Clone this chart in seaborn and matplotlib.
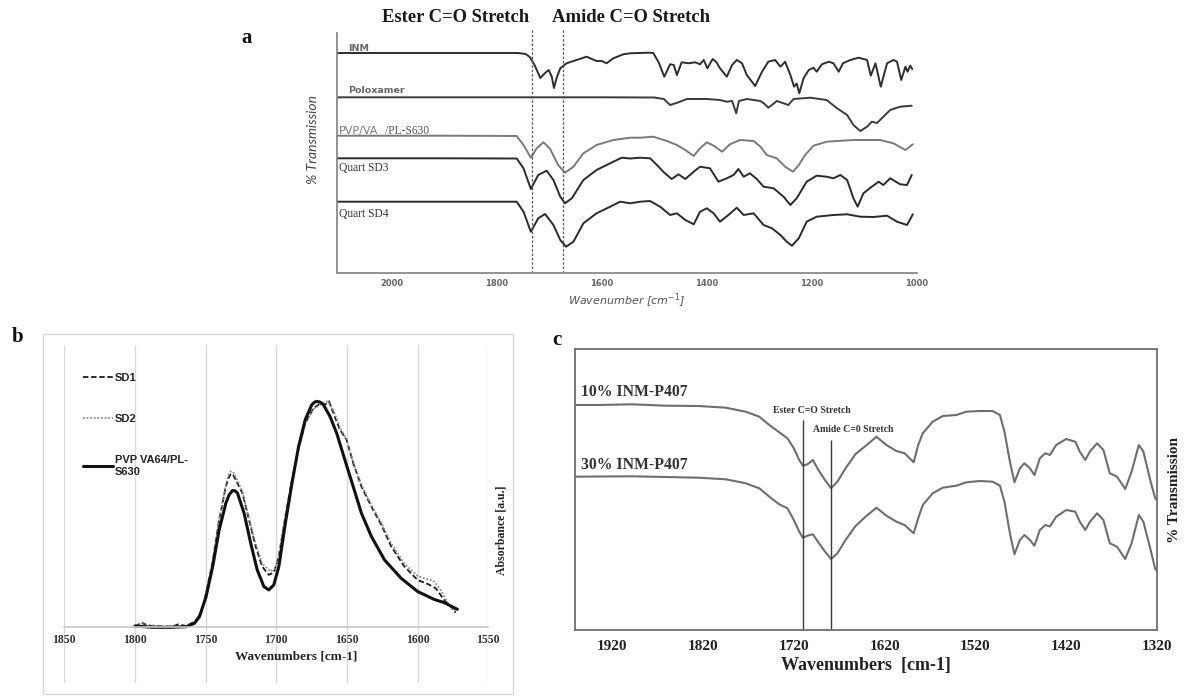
import matplotlib
matplotlib.use("Agg")
import matplotlib.pyplot as plt
from matplotlib.patches import Rectangle
import seaborn as sns

# ---------------- panel a: stacked FTIR transmission spectra ----------------
A_TICKS = [2000, 1800, 1600, 1400, 1200, 1000]
A_MARKERS = [1733, 1673]          # ester / amide C=O positions

INM_WN = [2104, 1900, 1760, 1745, 1737, 1728, 1717, 1708, 1701, 1695, 1691, 1686,
          1679, 1667, 1648, 1629, 1610, 1600, 1591, 1578, 1559, 1546, 1530, 1510,
          1502, 1492, 1481, 1470, 1463, 1457, 1448, 1435, 1422, 1413, 1406, 1399,
          1389, 1382, 1375, 1362, 1352, 1343, 1333, 1324, 1308, 1295, 1283, 1270,
          1260, 1251, 1241, 1234, 1229, 1224, 1216, 1206, 1197, 1191, 1181, 1168,
          1159, 1149, 1141, 1127, 1111, 1095, 1088, 1079, 1069, 1057, 1045, 1038,
          1030, 1022, 1018, 1013, 1009]
INM_T = [220, 220, 220, 219, 216, 208, 195, 200, 203, 196, 185, 195,
         204.7, 209.7, 213, 216.3, 212, 212, 209.7, 214.7, 218.7, 219.7, 220, 220.3,
         220, 211, 196.3, 208.7, 208, 198, 210.7, 209.7, 210.7, 208.7, 213, 204.7,
         214, 211, 204.7, 196.3, 208, 213, 209.7, 198, 187, 201.3, 211.3, 213,
         206.3, 211.3, 198, 186.3, 189.5, 179.7, 194.7, 203, 205.3, 201.3, 208.7, 211.3,
         209.7, 201.3, 209.7, 213, 215.3, 213, 197.3, 209.7, 186.3, 209.7, 213, 211.3,
         193, 206.3, 201.3, 207.3, 204]

POLOX_WN = [2104, 1800, 1600, 1500, 1482, 1470, 1454, 1438, 1400, 1375, 1362, 1352,
            1344, 1339, 1324, 1298, 1290, 1283, 1275, 1267, 1254, 1245, 1235, 1203,
            1172, 1152, 1133, 1121, 1108, 1095, 1086, 1076, 1064, 1051, 1032, 1010]
POLOX_T = [175.7, 175.7, 175.7, 175.5, 174, 168, 170.7, 174, 174, 173, 171.3, 172,
           159.7, 172, 174, 172, 169, 165.3, 168.5, 172, 169.7, 168, 174, 175.3,
           173, 164.7, 158, 148, 142, 146.3, 151.3, 150, 156.3, 163, 166.3, 167.3]

PVP_WN = [2104, 1900, 1762, 1749, 1735, 1724, 1711, 1699, 1683, 1670, 1654, 1635,
          1610, 1578, 1546, 1527, 1502, 1476, 1457, 1441, 1425, 1413, 1400, 1387,
          1371, 1356, 1337, 1311, 1298, 1286, 1267, 1251, 1236, 1225, 1213, 1197,
          1172, 1121, 1070, 1045, 1022, 1008]
PVP_T = [137.3, 137.3, 137, 128, 115.3, 124.7, 130.7, 124.7, 108, 100.3, 106.3, 119.7,
         128, 133, 135.3, 135.3, 136.3, 132, 128, 123, 117, 124.7, 130.7, 127.3,
         121.3, 128.7, 133, 132, 126.3, 118, 114.7, 106.3, 101.3, 108, 118, 127.3,
         131.3, 133, 133, 129.7, 123, 128.7]

SD3_WN = [2104, 1900, 1762, 1749, 1735, 1721, 1705, 1692, 1679, 1670, 1657, 1635,
          1610, 1578, 1562, 1546, 1527, 1508, 1495, 1483, 1467, 1454, 1441, 1425,
          1413, 1394, 1378, 1362, 1349, 1340, 1330, 1318, 1305, 1292, 1273, 1254,
          1241, 1229, 1210, 1191, 1172, 1159, 1146, 1133, 1121, 1113, 1102, 1086,
          1073, 1064, 1051, 1032, 1019, 1010]
SD3_T = [114.7, 114.7, 114.5, 104.7, 84, 98, 102.3, 93, 76.3, 69.7, 74.7, 93,
         103, 111.3, 115.3, 114.5, 115.3, 114.7, 108, 101.3, 94, 98.7, 94, 101.3,
         106.3, 104.7, 91.3, 94.7, 98, 104, 96.3, 99.7, 94, 86.3, 84.7, 76.3,
         68, 74.7, 91.3, 97.3, 96.3, 94.7, 98, 93, 74.7, 66.3, 79.7, 86.3,
         91.3, 88, 94.7, 88.7, 88, 98]

SD4_WN = [2104, 1900, 1762, 1749, 1735, 1721, 1708, 1692, 1679, 1668, 1654, 1635,
          1610, 1584, 1565, 1546, 1527, 1508, 1489, 1470, 1457, 1441, 1425, 1413,
          1400, 1387, 1375, 1359, 1343, 1330, 1311, 1292, 1276, 1260, 1248, 1238,
          1225, 1210, 1191, 1159, 1133, 1108, 1083, 1057, 1038, 1019, 1008]
SD4_T = [71.3, 71.3, 71.3, 61.3, 41.3, 54.7, 59, 48, 33, 26.3, 31.3, 49.7,
         59.7, 66.3, 71.3, 69.7, 71.3, 72, 66.3, 58, 59.7, 53, 48.7, 61.3,
         64.7, 59.7, 51.3, 58, 65.3, 58, 59.7, 48, 44.7, 38, 31.3, 27.3,
         34.7, 51.3, 56.3, 58, 58.7, 56.3, 56, 57.3, 51.3, 48, 58.7]

# ---------------- panel b: absorbance in the carbonyl region ----------------
B_TICKS = [1850, 1800, 1750, 1700, 1650, 1600, 1550]
B_LABELS = ["SD1", "SD2", "PVP VA64/PL-\nS630"]

SD1_WN = [1800, 1795.3, 1790.6, 1773.3, 1769.6, 1763.7, 1757.9, 1753.2, 1749.7, 1745.0,
          1740.4, 1735.7, 1733.8, 1732.2, 1730.4, 1728.7, 1724.0, 1719.3, 1714.6, 1710.0,
          1705.3, 1701.8, 1698.2, 1693.6, 1688.9, 1684.2, 1679.5, 1673.7, 1669.0, 1665.5,
          1662.7, 1659.6, 1655.0, 1650.3, 1645.6, 1639.8, 1632.7, 1625.7, 1618.7, 1609.4,
          1600.0, 1593.0, 1587.1, 1581.3, 1576.6, 1573.1]
SD1_A = [0.0, 0.018, 0.003, 0.0, 0.01, 0.003, 0.022, 0.059, 0.148, 0.289,
         0.474, 0.622, 0.66, 0.679, 0.672, 0.652, 0.593, 0.474, 0.356, 0.267,
         0.23, 0.24, 0.311, 0.489, 0.652, 0.793, 0.904, 0.97, 0.99, 0.985,
         1.0, 0.948, 0.874, 0.83, 0.726, 0.622, 0.533, 0.452, 0.356, 0.267,
         0.207, 0.19, 0.17, 0.119, 0.089, 0.062]

SD2_WN = [1800, 1795.0, 1780.0, 1765.0, 1757.9, 1753.2, 1749.7, 1745.0, 1740.4, 1735.7,
          1733.8, 1732.2, 1730.4, 1728.7, 1724.0, 1719.3, 1714.6, 1710.0, 1704.1, 1700.6,
          1698.2, 1693.6, 1688.9, 1684.2, 1679.5, 1673.7, 1668.0, 1663.5, 1659.6, 1655.0,
          1650.3, 1645.6, 1639.8, 1632.7, 1625.7, 1618.7, 1609.4, 1600.0, 1593.0, 1589.0,
          1584.5, 1580.0, 1576.6, 1573.1]
SD2_A = [0.0, 0.012, 0.0, 0.0, 0.018, 0.06, 0.15, 0.293, 0.48, 0.63,
         0.672, 0.69, 0.684, 0.665, 0.6, 0.48, 0.37, 0.28, 0.245, 0.26,
         0.32, 0.49, 0.65, 0.79, 0.9, 0.965, 0.99, 1.0, 0.96, 0.885,
         0.83, 0.73, 0.63, 0.54, 0.46, 0.37, 0.28, 0.225, 0.21, 0.205,
         0.17, 0.12, 0.085, 0.068]

PVPB_WN = [1800, 1787.1, 1775.4, 1763.7, 1757.9, 1754.4, 1749.7, 1745.0, 1740.4, 1735.7,
           1733.4, 1731.0, 1729.2, 1727.5, 1722.8, 1718.1, 1713.5, 1708.8, 1705.3, 1701.8,
           1698.2, 1693.6, 1688.9, 1684.2, 1679.5, 1674.9, 1672.8, 1670.9, 1668.8, 1666.7,
           1662.0, 1657.3, 1651.5, 1645.6, 1639.8, 1632.7, 1623.4, 1611.7, 1600.0, 1588.3,
           1581.3, 1571.9]
PVPB_A = [0.003, -0.003, -0.003, 0.0, 0.015, 0.044, 0.133, 0.267, 0.43, 0.548,
          0.585, 0.604, 0.603, 0.593, 0.504, 0.37, 0.252, 0.178, 0.163, 0.185,
          0.267, 0.459, 0.637, 0.80, 0.919, 0.985, 0.997, 1.0, 0.996, 0.985,
          0.933, 0.859, 0.741, 0.622, 0.504, 0.40, 0.296, 0.215, 0.156, 0.121,
          0.107, 0.077]

# ---------------- panel c: INM-P407 transmission spectra ----------------
C_TICKS = [1920, 1820, 1720, 1620, 1520, 1420, 1320]
C_MARKERS = {"Ester C=O Stretch": (1710, 210), "Amide C=0 Stretch": (1679, 190)}

C_WN = [1961, 1935, 1898, 1861, 1825, 1795, 1773, 1758, 1747, 1736, 1727, 1720,
        1714, 1710, 1705, 1699, 1694, 1687, 1679, 1672, 1663, 1652, 1641, 1629,
        1618, 1607, 1598, 1588, 1583, 1578, 1567, 1556, 1541, 1530, 1515, 1501,
        1493, 1488, 1482, 1477, 1471, 1466, 1460, 1455, 1449, 1443, 1438, 1431,
        1420, 1410, 1405, 1399, 1394, 1386, 1379, 1372, 1364, 1355, 1348, 1340,
        1335, 1327, 1322, 1320]
P10_T = [225, 225, 225.7, 224.3, 224, 222.3, 218.3, 213.3, 205, 197.7, 191.7, 181.7,
         170, 164.3, 165.7, 170, 161.7, 151.7, 141.7, 148.3, 161.7, 176, 184, 193.3,
         185, 179, 176.7, 167.7, 185, 196.7, 208.3, 214, 215, 218.3, 219, 219,
         215, 198.3, 168.3, 147.7, 161.7, 166.7, 161.7, 155, 171.7, 176.7, 175, 185,
         191, 188.3, 178.3, 170, 178.3, 186.7, 180, 156.7, 153.3, 141, 158.3, 185,
         178.3, 148.3, 131.7, 130]
P30_T = [153.3, 153.5, 153.7, 153, 152.3, 150.7, 146.7, 141.7, 133.3, 125.7, 121.7, 110,
         98.3, 92.3, 94.3, 95.7, 89, 80, 71, 76.7, 90, 104, 113.3, 122.3,
         114.3, 108.3, 105, 96.7, 111.7, 125, 136.7, 142.3, 144.3, 147.7, 149, 148.3,
         144.3, 128.3, 96.7, 75.7, 90, 95, 90, 84.3, 100, 105, 103.5, 113.3,
         120, 118.3, 108.3, 100, 108, 116.7, 110, 86.7, 83.3, 71, 86.7, 115,
         108.3, 80, 61, 59.3]

# ---------------- figure ----------------
sns.set_theme(style="white")
plt.rcParams["font.family"] = ["DejaVu Sans"]
plt.rcParams["lines.solid_joinstyle"] = "round"
plt.rcParams["lines.dash_joinstyle"] = "round"
SERIF = "Liberation Serif"

W, H = 1193, 696
fig = plt.figure(figsize=(W / 100, H / 100), dpi=100)


def box(left, top, right, bottom):
    return [left / W, 1 - bottom / H, (right - left) / W, (bottom - top) / H]


def ftext(x, y, s, **kw):
    fig.text(x / W, 1 - y / H, s, **kw)


# ---- panel a ----
axa = fig.add_axes(box(337, 33, 917, 273))
a_series = [
    (INM_WN, INM_T, "#2e2e2e"),
    (POLOX_WN, POLOX_T, "#3a3a3a"),
    (PVP_WN, PVP_T, "#7a7a7a"),
    (SD3_WN, SD3_T, "#2a2a2a"),
    (SD4_WN, SD4_T, "#2a2a2a"),
]
for wn, t, col in a_series:
    sns.lineplot(x=wn, y=t, ax=axa, color=col, lw=1.4, estimator=None, sort=False)
axa.set_xlim(2104, 1000)
axa.set_ylim(0, 240)
for s in ["top", "right"]:
    axa.spines[s].set_visible(False)
for s in ["left", "bottom"]:
    axa.spines[s].set_color("#8a8a8a")
    axa.spines[s].set_linewidth(1.3)
axa.set_yticks([])
axa.set_xticks(A_TICKS)
axa.tick_params(axis="x", length=0, pad=4, labelsize=6, labelcolor="#666666")
for lab in axa.get_xticklabels():
    lab.set_fontweight("bold")
axa.set_xlabel("Wavenumber [cm$^{-1}$]", fontstyle="italic", fontsize=8,
               color="#555555", labelpad=3)
for x in A_MARKERS:
    axa.axvline(x, ymin=0, ymax=1.0125, color="#555555", lw=0.9,
                ls=(0, (2, 1.5)), clip_on=False)

axa.text(2083, 224.7, "INM", fontsize=6.8, color="#666666", va="center", fontweight="bold")
axa.text(2083, 182.3, "Poloxamer", fontsize=6.8, color="#666666", va="center", fontweight="bold")
axa.text(2101, 142, "PVP/VA", fontsize=8, color="#7a7a7a", va="center")
axa.text(2013, 142, "/PL-S630", fontsize=8.3, color="#555555", va="center", family=SERIF)
axa.text(2101, 105.3, "Quart SD3", fontsize=8.3, color="#333333", va="center", family=SERIF)
axa.text(2101, 58.7, "Quart SD4", fontsize=8.3, color="#333333", va="center", family=SERIF)

ftext(456, 17, "Ester C=O Stretch", ha="center", va="center", family=SERIF,
      fontweight="bold", fontsize=13.4, color="#1a1a1a")
ftext(631, 17, "Amide C=O Stretch", ha="center", va="center", family=SERIF,
      fontweight="bold", fontsize=13.4, color="#1a1a1a")
ftext(247, 38, "a", ha="center", va="center", family=SERIF, fontweight="bold",
      fontsize=15, color="#111111")
ftext(313, 139, "% Transmission", ha="center", va="center", rotation=90,
      family="Lato", fontstyle="italic", fontsize=10, color="#444444")

# ---- panel b ----
fig.add_artist(Rectangle((43 / W, 1 - 694 / H), 470 / W, (694 - 334) / H,
                         transform=fig.transFigure, fill=False,
                         ec="#d9d9d9", lw=1.0))
axb = fig.add_axes(box(64.3, 345, 488.3, 683))
b_series = [
    (SD1_WN, SD1_A, "#1a1a1a", (0, (3, 1.5)), 1.3),
    (SD2_WN, SD2_A, "#8c8c8c", (0, (1, 1)), 1.3),
    (PVPB_WN, PVPB_A, "#111111", "-", 2.2),
]
for (wn, a, col, ls, lw), lab in zip(b_series, B_LABELS):
    sns.lineplot(x=wn, y=a, ax=axb, color=col, ls=ls, lw=lw, label=lab,
                 estimator=None, sort=False)
axb.set_xlim(1850, 1550)
axb.set_ylim(-0.25, 1.25)
axb.set_xticks(B_TICKS)
axb.set_yticks([])
axb.grid(axis="x", color="#d9d9d9", lw=1.0)
for s in ["top", "right", "left"]:
    axb.spines[s].set_visible(False)
axb.spines["bottom"].set_position(("data", 0))
axb.spines["bottom"].set_color("#c8c8c8")
axb.spines["bottom"].set_linewidth(1.2)
axb.tick_params(axis="x", length=0, pad=5, labelsize=8.5, labelcolor="#333333")
for lab in axb.get_xticklabels():
    lab.set_family(SERIF)
    lab.set_fontweight("bold")
axb.set_xlabel("Wavenumbers [cm-1]", family=SERIF, fontweight="bold",
               fontsize=9.5, color="#222222")
axb.xaxis.set_label_coords(0.546, 0.095)
leg = axb.legend(loc="upper left", bbox_to_anchor=(0.043, 0.917), frameon=False,
                 handlelength=2.7, handletextpad=0.2, labelspacing=2.8,
                 borderpad=0, borderaxespad=0,
                 prop={"family": "Liberation Sans", "weight": "bold", "size": 8})
for t in leg.get_texts():
    t.set_color("#222222")
ftext(501, 530, "Absorbance [a.u.]", ha="center", va="center", rotation=90,
      family=SERIF, fontweight="bold", fontsize=8.5, color="#222222")
ftext(18, 337, "b", ha="center", va="center", family=SERIF, fontweight="bold",
      fontsize=15, color="#111111")

# ---- panel c ----
axc = fig.add_axes(box(575, 349, 1157, 630))
for t in (P10_T, P30_T):
    sns.lineplot(x=C_WN, y=t, ax=axc, color="#6e6e6e", lw=1.5, estimator=None, sort=False)
axc.set_xlim(1961, 1320)
axc.set_ylim(0, 281)
for s in axc.spines.values():
    s.set_visible(True)
    s.set_color("#6e6e6e")
    s.set_linewidth(1.3)
axc.set_yticks([])
axc.set_xticks(C_TICKS)
axc.tick_params(axis="x", length=0, pad=7, labelsize=11, labelcolor="#222222")
for lab in axc.get_xticklabels():
    lab.set_family(SERIF)
    lab.set_fontweight("bold")
axc.set_xlabel("Wavenumbers  [cm-1]", family=SERIF, fontweight="bold",
               fontsize=13, color="#222222", labelpad=3)
for label, (x, top) in C_MARKERS.items():
    axc.vlines(x, 0, top, color="#3a3a3a", lw=1.0)
axc.text(1700, 219.3, "Ester C=O Stretch", ha="center", va="center", family=SERIF,
         fontweight="bold", fontsize=7, color="#333333")
axc.text(1655, 200, "Amide C=0 Stretch", ha="center", va="center", family=SERIF,
         fontweight="bold", fontsize=7, color="#333333")
axc.text(1954, 238.3, "10% INM-P407", ha="left", va="center", family=SERIF,
         fontweight="bold", fontsize=11.3, color="#333333")
axc.text(1954, 165, "30% INM-P407", ha="left", va="center", family=SERIF,
         fontweight="bold", fontsize=11.3, color="#333333")
ftext(1175, 490, "% Transmission", ha="center", va="center", rotation=90,
      family=SERIF, fontweight="bold", fontsize=11, color="#222222")
ftext(557, 340, "c", ha="center", va="center", family=SERIF, fontweight="bold",
      fontsize=15, color="#111111")

fig.savefig("out.png", dpi=100)
